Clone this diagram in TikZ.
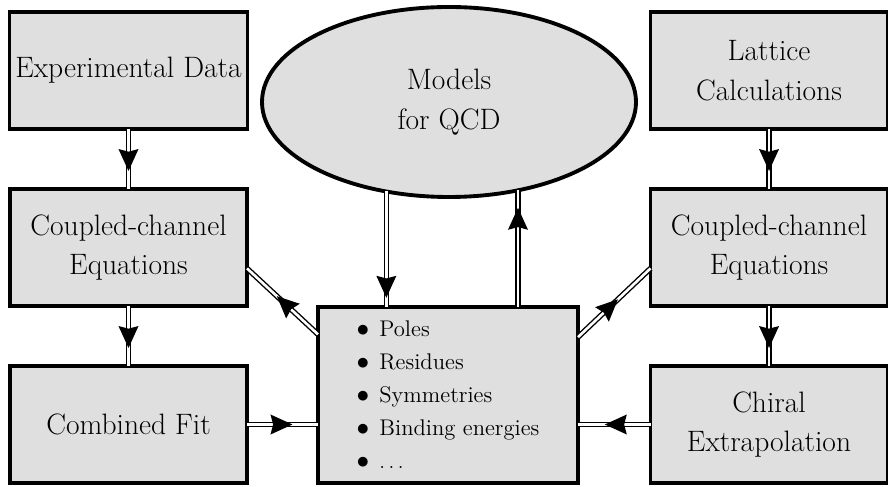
\documentclass[tikz,border=0pt]{standalone}
\usepackage{tikz}
\usetikzlibrary{positioning, shapes.geometric, calc}
\usetikzlibrary{decorations.markings}
\newcommand{\itm}{{\fontsize{15}{18}\selectfont$\bullet$}\hspace{0.45em}}
\tikzset {
  box/.style = {draw, line width=1.8pt, fill=gray!25, rectangle, outer sep=0pt, align=center,
    minimum width=4.74cm, minimum height=2.34cm, font=\fontsize{16.8}{22.5}\selectfont},
  model/.style = {draw, line width=2.2pt, fill=gray!25, ellipse, outer sep=0pt, align=center,
    minimum width=7.48cm, minimum height=3.8cm, font=\fontsize{16.8}{22.5}\selectfont},
  list/.style = {draw, line width=1.8pt, fill=gray!25, rectangle, outer sep=0pt, align=left,
    minimum width=5.2cm, minimum height=3.52cm, font=\fontsize{12.9}{18.8}\selectfont},
  % double line, arrow head put on it with markings
  line/.style = {draw=black, double, line width=0.8pt, double distance=1.5pt,
    decoration={
                 markings,
                 mark=at position #1 with {\fill[black] (0,0) -- (-12.5pt,5.7pt) -- (-11pt,0) -- (-12.5pt,-5.7pt) -- cycle;}
            },
            postaction={decorate}
    },
  line/.default = 0.7
}

\begin{document}
\begin{tikzpicture}
    \useasboundingbox (0,0) rectangle (17.76,-9.74);

    \node[box] (expdata) at (2.57,-1.41) {Experimental Data};
    \node[box, below=1.2cm of expdata] (ccleft) {Coupled-channel\\Equations};
    \node[box, below=1.2cm of ccleft] (combfit) {Combined Fit};
    \node[box, right=8.06cm of expdata] (lattice) {Lattice\\Calculations};
    \node[box, below=1.2cm of lattice] (ccright) {Coupled-channel\\Equations};
    \node[box, below=1.2cm of ccright] (chiral) {Chiral\\Extrapolation};
    \node[model] (models) at (8.98,-2.04) {Models\\for QCD};
    \node[list, text depth=0pt] (results) at (8.96,-7.9) {\itm Poles\\\itm Residues\\\itm Symmetries\\\itm Binding energies\\\itm $\ldots$};

    \draw[line] (expdata) -- (ccleft);
    \draw[line] (ccleft) -- (combfit);
    \draw[line] (lattice) -- (ccright);
    \draw[line] (ccright) -- (chiral);
    \draw[line=0.64] (combfit) -- (combfit -| results.west);
    \draw[line=0.63] (chiral) -- (chiral -| results.east);
    \draw[line=0.58] (results.155.6) -- (ccleft.-10);
    \draw[line=0.55] (results.24.4) -- (ccright.190);
    \draw[line=0.92] (models.235.8) -- (models.235.8 |- results.north);
    \draw[line=0.85] (models.308.9 |- results.north) -- (models.308.9);

  \end{tikzpicture}
\end{document}
